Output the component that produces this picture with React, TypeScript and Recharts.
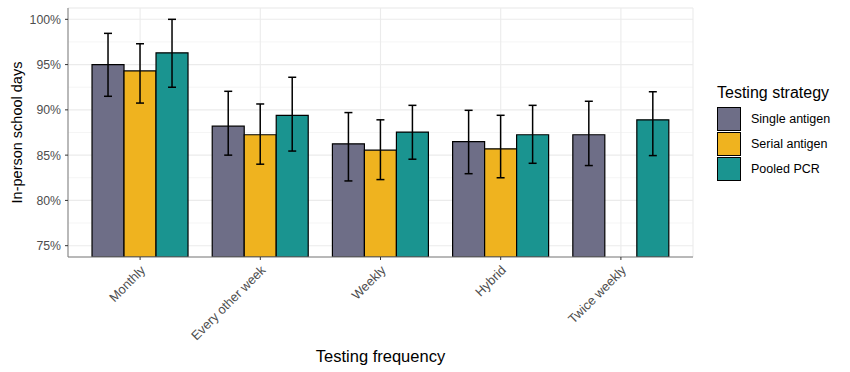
import React from 'react';
import { BarChart, Bar, XAxis, YAxis, CartesianGrid, ErrorBar, Legend } from 'recharts';

const categories = ['Monthly', 'Every other week', 'Weekly', 'Hybrid', 'Twice weekly'];
const single = [95.0, 88.2, 86.25, 86.5, 87.25];
const singleLow = [91.5, 85.0, 82.15, 82.95, 83.85];
const singleHigh = [98.45, 92.05, 89.7, 89.95, 90.95];
const serial: (number | null)[] = [94.3, 87.25, 85.55, 85.7, null];
const serialLow: (number | null)[] = [90.75, 84.0, 82.3, 82.5, null];
const serialHigh: (number | null)[] = [97.3, 90.65, 88.9, 89.4, null];
const pcr = [96.3, 89.4, 87.55, 87.25, 88.9];
const pcrLow = [92.5, 85.45, 84.55, 84.1, 84.95];
const pcrHigh = [100.0, 93.6, 90.5, 90.5, 92.0];
const yTicks = [75, 80, 85, 90, 95, 100];
const minorTicks = [77.5, 82.5, 87.5, 92.5, 97.5];

const seriesNames = ['Single antigen', 'Serial antigen', 'Pooled PCR'];
const colors = ['#6e6e87', '#efb31f', '#1a9490'];

const err = (v: number | null, lo: number | null, hi: number | null) =>
  v == null || lo == null || hi == null ? undefined : [v - lo, hi - v];

const data = categories.map((c, i) => ({
  name: c,
  single: single[i],
  singleErr: err(single[i], singleLow[i], singleHigh[i]),
  serial: serial[i],
  serialErr: err(serial[i], serialLow[i], serialHigh[i]),
  pcr: pcr[i],
  pcrErr: err(pcr[i], pcrLow[i], pcrHigh[i]),
}));

const FONT = '"Liberation Sans", Arial, sans-serif';
const DOMAIN: [number, number] = [73.75, 101.25];

const XTick = (props: any) => {
  const { x, y, payload } = props;
  const ax = x + 6;
  const ay = y + 9;
  return (
    <text
      x={ax}
      y={ay}
      transform={`rotate(-45, ${ax}, ${ay})`}
      textAnchor="end"
      fontSize={12.8}
      fill="#4d4d4d"
      fontFamily={FONT}
    >
      {payload.value}
    </text>
  );
};

const YTitle = (props: any) => {
  const { viewBox } = props;
  const cy = viewBox.y + viewBox.height / 2;
  const cx = 22;
  return (
    <text
      x={cx}
      y={cy}
      transform={`rotate(-90, ${cx}, ${cy})`}
      textAnchor="middle"
      fontSize={14.5}
      fill="#000"
      fontFamily={FONT}
    >
      In-person school days
    </text>
  );
};

const XTitle = (props: any) => {
  const { viewBox } = props;
  const cx = viewBox.x + viewBox.width / 2;
  return (
    <text x={cx} y={362} textAnchor="middle" fontSize={16.5} fill="#000" fontFamily={FONT}>
      Testing frequency
    </text>
  );
};

const LegendContent = () => (
  <div style={{ fontFamily: FONT, position: 'relative', width: 130, height: 110 }}>
    <div style={{ position: 'absolute', left: 0, top: 0, fontSize: 16, color: '#000', lineHeight: '18px', whiteSpace: 'nowrap' }}>
      Testing strategy
    </div>
    {seriesNames.map((n, i) => (
      <div key={n} style={{ position: 'absolute', left: 0, top: 23 + i * 25, display: 'flex', alignItems: 'center', height: 24 }}>
        <div
          style={{
            width: 24,
            height: 24,
            background: colors[i],
            border: '1.2px solid #000',
            boxSizing: 'border-box',
            marginRight: 10,
          }}
        />
        <span style={{ fontSize: 12.5, color: '#000', whiteSpace: 'nowrap' }}>{n}</span>
      </div>
    ))}
  </div>
);

export default function App() {
  return (
    <div style={{ position: 'absolute', left: 0, top: 0, background: '#fff' }}>
      <BarChart
        width={850}
        height={372}
        data={data}
        margin={{ top: 8, right: 157, left: 0, bottom: 0 }}
        barCategoryGap="10%"
        barGap={0}
        style={{ fontFamily: FONT }}
      >
        <CartesianGrid yAxisId="minor" vertical={false} stroke="#f3f3f3" strokeWidth={0.8} />
        <CartesianGrid stroke="#ebebeb" strokeWidth={1.1} />
        <XAxis
          dataKey="name"
          height={115}
          padding={{ left: 12, right: 12 }}
          tick={<XTick />}
          tickLine={{ stroke: '#333' }}
          tickSize={3}
          axisLine={{ stroke: '#7f7f7f' }}
          interval={0}
          label={<XTitle />}
        />
        <XAxis xAxisId="top" orientation="top" height={0} tick={false} tickLine={false} axisLine={{ stroke: '#7f7f7f' }} dataKey="name" />
        <YAxis
          width={68}
          domain={DOMAIN}
          ticks={yTicks}
          allowDataOverflow
          tickFormatter={(v: number) => `${v}%`}
          tick={{ fontSize: 12.3, fill: '#4d4d4d', fontFamily: FONT }}
          tickLine={{ stroke: '#333' }}
          tickSize={3}
          tickMargin={4}
          axisLine={{ stroke: '#7f7f7f' }}
          label={<YTitle />}
        />
        <YAxis yAxisId="minor" hide domain={DOMAIN} ticks={minorTicks} allowDataOverflow />
        <YAxis yAxisId="right" orientation="right" width={0} tick={false} tickLine={false} axisLine={{ stroke: '#7f7f7f' }} domain={DOMAIN} />
        <Legend
          layout="vertical"
          align="center"
          verticalAlign="middle"
          content={<LegendContent />}
          wrapperStyle={{ left: 717, top: 84, width: 130 }}
        />
        <Bar dataKey="single" name={seriesNames[0]} fill={colors[0]} stroke="#000" strokeWidth={1.2} isAnimationActive={false}>
          <ErrorBar dataKey="singleErr" width={4} stroke="#000" strokeWidth={1.5} direction="y" />
        </Bar>
        <Bar dataKey="serial" name={seriesNames[1]} fill={colors[1]} stroke="#000" strokeWidth={1.2} isAnimationActive={false}>
          <ErrorBar dataKey="serialErr" width={4} stroke="#000" strokeWidth={1.5} direction="y" />
        </Bar>
        <Bar dataKey="pcr" name={seriesNames[2]} fill={colors[2]} stroke="#000" strokeWidth={1.2} isAnimationActive={false}>
          <ErrorBar dataKey="pcrErr" width={4} stroke="#000" strokeWidth={1.5} direction="y" />
        </Bar>
      </BarChart>
    </div>
  );
}
